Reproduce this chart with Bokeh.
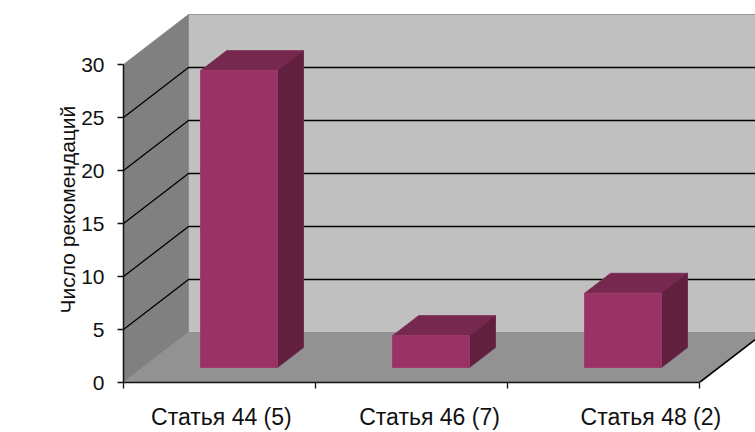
from bokeh.plotting import figure
from bokeh.models import FixedTicker, LinearAxis, Range1d, Title
from bokeh.embed import file_html
from bokeh.resources import INLINE

categories = ["Статья 44 (5)", "Статья 46 (7)", "Статья 48 (2)"]
values = [28, 3, 7]
y_ticks = [0, 5, 10, 15, 20, 25, 30]
y_title = "Число рекомендаций"

# oblique projection: one full chart depth shifts this far in data units
DX = 65 / 192
DY = 50 / 10.6
BAR_W = 0.4
BAR_D0, BAR_D1 = 0.3, 0.7
X_MAX = len(categories)
Y_MAX = y_ticks[-1]
# the reference's category labels do not sit exactly mid-slot
LABEL_POS = [0.51, 1.594, 2.747]


def pr(x, v, d=0.0):
    return x + d * DX, v + d * DY


def poly(points):
    xy = [pr(*pt) for pt in points]
    return [a for a, _ in xy], [b for _, b in xy]


p = figure(width=755, height=432, output_backend="svg", toolbar_location=None,
           x_range=Range1d(0, 632 / 192), y_range=Range1d(0, 382 / 10.6),
           min_border_left=123, min_border_right=0, min_border_top=0, min_border_bottom=50,
           outline_line_color=None, background_fill_color="white", border_fill_color="white")
p.grid.visible = False

# walls and floor
xs, ys = poly([(0, 0, 1), (X_MAX + 1, 0, 1), (X_MAX + 1, Y_MAX, 1), (0, Y_MAX, 1)])
p.patch(xs, ys, fill_color="#C0C0C0", line_color="#969696", line_width=1)
xs, ys = poly([(0, 0, 0), (0, 0, 1), (0, Y_MAX, 1), (0, Y_MAX, 0)])
p.patch(xs, ys, fill_color="#808080", line_color="#8C8C8C", line_width=1)
xs, ys = poly([(0, 0, 0), (X_MAX, 0, 0), (X_MAX, 0, 1), (0, 0, 1)])
p.patch(xs, ys, fill_color="#929292", line_color="#929292", line_width=1)

# grid lines
for v in y_ticks[1:-1]:
    xs, ys = poly([(0, v, 0), (0, v, 1), (X_MAX + 1, v, 1)])
    p.line(xs, ys, line_color="black", line_width=1.3)
xs, ys = poly([(X_MAX, 0, 0), (X_MAX, 0, 1.0)])
p.line(xs, ys, line_color="black", line_width=1.6)

# bars
for i, v in enumerate(values):
    a = i + 0.5 - BAR_W / 2
    b = i + 0.5 + BAR_W / 2
    xs, ys = poly([(a, v, BAR_D0), (b, v, BAR_D0), (b, v, BAR_D1), (a, v, BAR_D1)])
    p.patch(xs, ys, fill_color="#76284F", line_color="#7F3059", line_width=1)
    xs, ys = poly([(b, 0, BAR_D0), (b, 0, BAR_D1), (b, v, BAR_D1), (b, v, BAR_D0)])
    p.patch(xs, ys, fill_color="#62203F", line_color="#6A2647", line_width=1)
    xs, ys = poly([(a, 0, BAR_D0), (b, 0, BAR_D0), (b, v, BAR_D0), (a, v, BAR_D0)])
    p.patch(xs, ys, fill_color="#993366", line_color="#A03A6C", line_width=1)

# axes
yax = p.yaxis[0]
yax.ticker = FixedTicker(ticks=y_ticks)
yax.bounds = (0, Y_MAX)
yax.axis_line_color = "#111111"
yax.axis_line_width = 1.5
yax.major_tick_line_color = "#111111"
yax.major_tick_line_width = 1.3
yax.major_tick_in = 0
yax.major_tick_out = 6
yax.minor_tick_line_color = None
yax.major_label_text_font = "Liberation Sans"
yax.major_label_text_font_size = "21px"
yax.major_label_text_color = "#111111"
yax.major_label_standoff = 13

xax = p.xaxis[0]
xax.ticker = FixedTicker(ticks=LABEL_POS, minor_ticks=list(range(len(categories) + 1)))
xax.major_label_overrides = dict(zip(LABEL_POS, categories))
xax.bounds = (0, X_MAX)
xax.axis_line_color = "#111111"
xax.axis_line_width = 1.5
xax.major_tick_line_color = None
xax.major_tick_in = 0
xax.major_tick_out = 0
xax.minor_tick_line_color = "#111111"
xax.minor_tick_line_width = 1.3
xax.minor_tick_in = 0
xax.minor_tick_out = 6
xax.major_label_text_font = "Liberation Sans"
xax.major_label_text_font_size = "23px"
xax.major_label_text_color = "#111111"
xax.major_label_standoff = 15

# axis without ticks: only reserves the gap between the tick labels and the title
spacer = LinearAxis(ticker=FixedTicker(ticks=[]), axis_line_color=None, major_tick_line_color="white",
                    minor_tick_line_color=None, major_tick_in=0, major_tick_out=47, minor_tick_out=0,
                    major_label_standoff=0, major_label_text_font_size="1px")
p.add_layout(spacer, "left")

p.add_layout(Title(text=y_title, align="left", offset=69, standoff=0,
                   text_font="Liberation Sans", text_font_size="21px",
                   text_font_style="normal", text_color="#111111"), "left")

open("out.html", "w").write(file_html(p, INLINE))
